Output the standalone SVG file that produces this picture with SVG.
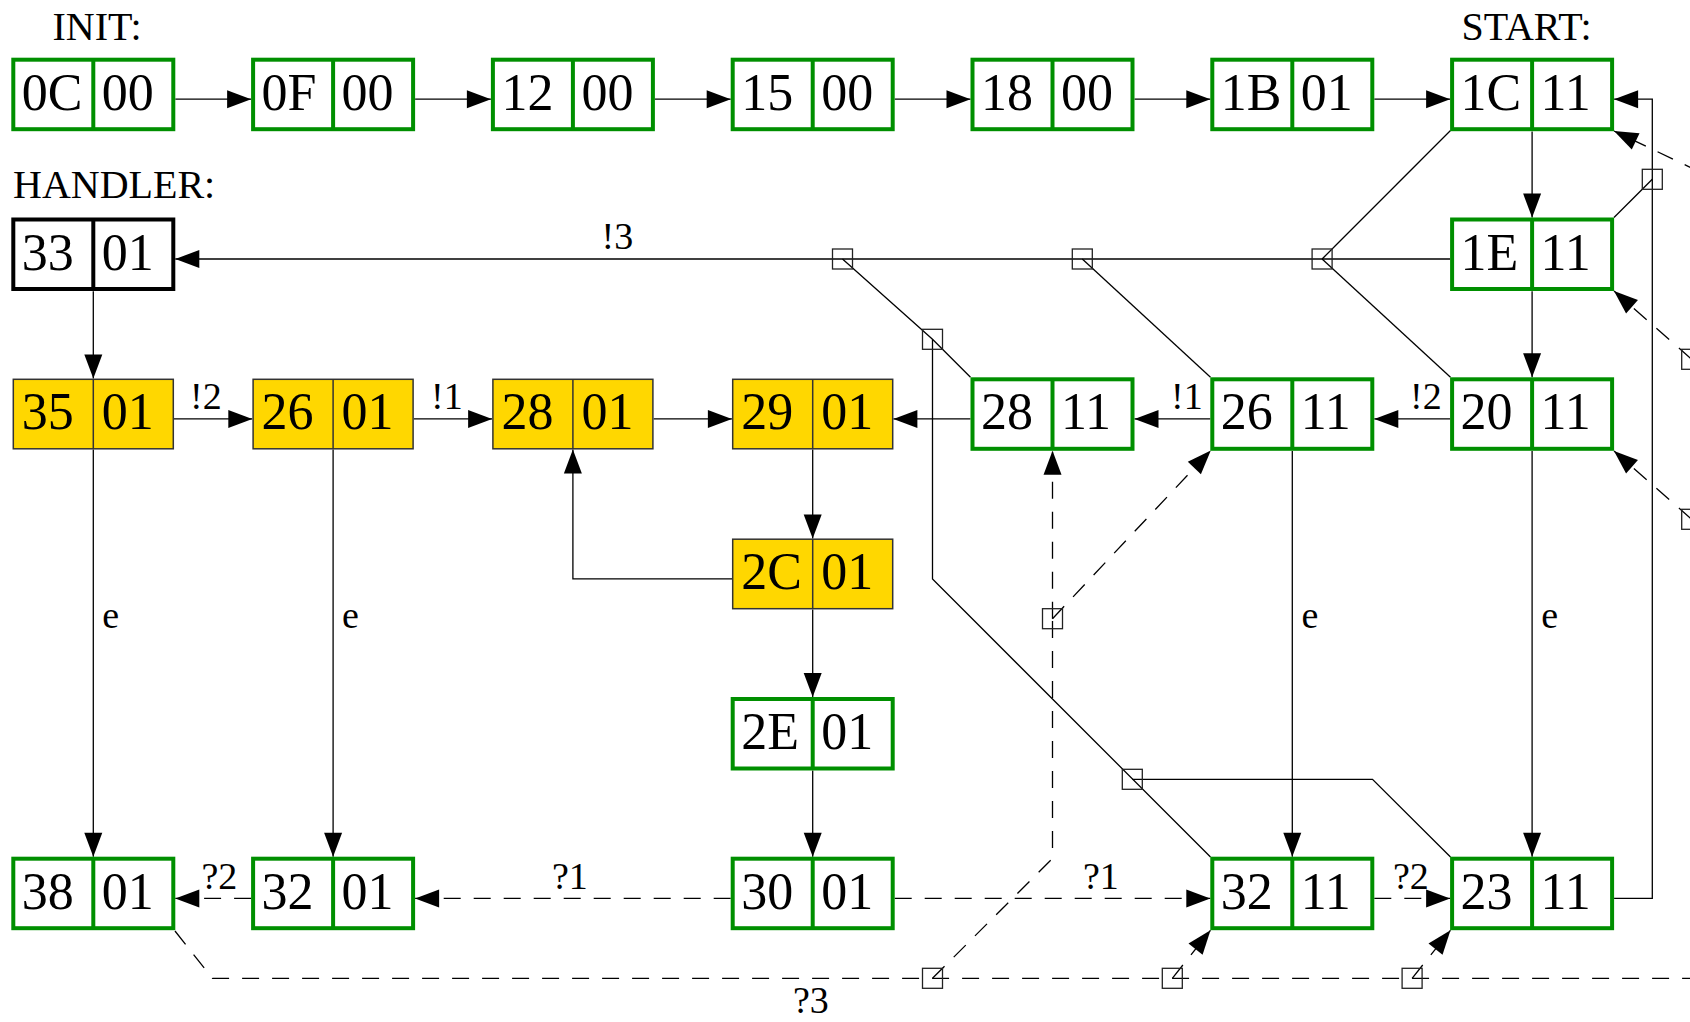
<svg xmlns="http://www.w3.org/2000/svg" width="1690" height="1022" viewBox="0 0 1690 1022">
<defs>
<marker id="ah" markerUnits="userSpaceOnUse" markerWidth="24" markerHeight="18" refX="24" refY="9" orient="auto" overflow="visible">
<path d="M0,0 L24,9 L0,18 z" fill="#000"/>
</marker>
</defs>
<style>
.g rect,.g line{fill:#fff;stroke:#008f00;stroke-width:4}
.y rect{fill:#ffd700;stroke:#333;stroke-width:1.5}
.y line{stroke:#333;stroke-width:1.5}
.k rect{fill:#fff;stroke:#000;stroke-width:4}
.k line{stroke:#000;stroke-width:4}
.t{font-family:"Liberation Serif","Times New Roman",serif;font-size:52px;fill:#000}
.h{font-family:"Liberation Serif","Times New Roman",serif;font-size:40px;fill:#000}
.l{font-family:"Liberation Serif","Times New Roman",serif;font-size:38px;fill:#000}
.c path{fill:none;stroke:#000;stroke-width:1.3}
.c .a{marker-end:url(#ah)}
.c .d{stroke-dasharray:17 13}
.j rect{fill:none;stroke:#222;stroke-width:1.3}
</style>
<rect width="1690" height="1022" fill="#fff"/>

<g id="labels">
<text class="h" x="52.5" y="40">INIT:</text>
<text class="h" x="13" y="198">HANDLER:</text>
<text class="h" x="1461.5" y="40">START:</text>
</g>

<g id="connectors" class="c">
<!-- row 0 -->
<path class="a" d="M175.3 99.2H251.1"/>
<path class="a" d="M415.1 99.2H490.9"/>
<path class="a" d="M654.9 99.2H730.7"/>
<path class="a" d="M894.7 99.2H970.5"/>
<path class="a" d="M1134.5 99.2H1210.3"/>
<path class="a" d="M1374.3 99.2H1450.1"/>
<path class="a" d="M1532.1 131.5V217.5"/>
<path class="a" d="M1532.1 291.2V377.3"/>
<path class="a" d="M1450.1 259H175.3"/>
<path class="a" d="M93.3 291.2V378.5"/>
<!-- row 2 -->
<path class="a" d="M174 418.9H252.3"/>
<path class="a" d="M413.8 418.9H492.1"/>
<path class="a" d="M653.6 418.9H731.9"/>
<path class="a" d="M970.5 418.9H893.4"/>
<path class="a" d="M1210.3 418.9H1134.5"/>
<path class="a" d="M1450.1 418.9H1374.3"/>
<path class="a" d="M812.7 449.6V538.4"/>
<path class="a" d="M812.7 609.5V697"/>
<path class="a" d="M732 578.9H572.9V449.6"/>
<path class="a" d="M812.7 770.5V856.7"/>
<path class="a" d="M93.3 449.6V856.7"/>
<path class="a" d="M333.1 449.6V856.7"/>
<path class="a" d="M1292.3 451V856.7"/>
<path class="a" d="M1532.1 451V856.7"/>
<path class="a" d="M1614.1 898.4H1652.3V99.2H1614.1"/>
<!-- exception lines -->
<path d="M842.5 259L932.5 339.3L970.5 377.3"/>
<path d="M1082.3 259L1210.5 377.3"/>
<path d="M1322.1 259L1450.5 377.3"/>
<path d="M1322.1 259L1450.5 130.5"/>
<path d="M932.5 339.3V579L1210.5 857"/>
<path d="M1132.3 779.3H1372.5L1450.5 857"/>
<path d="M1614 217.5L1652.3 179.3"/>
<!-- dashed -->
<path class="a d" d="M730.7 898.4H415.1"/>
<path class="a d" d="M251.1 898.4H175.3"/>
<path class="a d" d="M894.7 898.4H1210.3"/>
<path class="a d" d="M1374.3 898.4H1450.1"/>
<path class="d" d="M175 931L212.4 978.3H1700"/>
<path class="d" d="M932.5 978.3L1052.5 858.5V618.7"/>
<path class="a d" d="M1052.5 618.7V450.8"/>
<path class="a d" d="M1052.5 618.7L1210.8 450.5"/>
<path class="a d" d="M1172.3 978.3L1210.5 930.3"/>
<path class="a d" d="M1412.1 978.3L1450.5 930.3"/>
<path class="a d" d="M1700 172L1614 131"/>
<path class="a d" d="M1691.7 359.3L1614 291"/>
<path class="a d" d="M1691.7 519.3L1614 451"/>
</g>

<g id="junctions" class="j">
<rect x="832.5" y="249" width="20" height="20"/>
<rect x="1072.3" y="249" width="20" height="20"/>
<rect x="1312.1" y="249" width="20" height="20"/>
<rect x="922.5" y="329.3" width="20" height="20"/>
<rect x="1122.3" y="769.3" width="20" height="20"/>
<rect x="1642.3" y="169.3" width="20" height="20"/>
<rect x="922.5" y="968.3" width="20" height="20"/>
<rect x="1162.3" y="968.3" width="20" height="20"/>
<rect x="1402.1" y="968.3" width="20" height="20"/>
<rect x="1042.5" y="608.7" width="20" height="20"/>
<rect x="1681.7" y="349.3" width="20" height="20"/>
<rect x="1681.7" y="509.3" width="20" height="20"/>
</g>

<g id="edge-labels">
<text class="l" x="601.6" y="249.3">!3</text>
<text class="l" x="190" y="409.3">!2</text>
<text class="l" x="431" y="409.3">!1</text>
<text class="l" x="1171" y="408.5">!1</text>
<text class="l" x="1410" y="409.3">!2</text>
<text class="l" x="102.3" y="627.5">e</text>
<text class="l" x="342" y="627.5">e</text>
<text class="l" x="1301.5" y="627.5">e</text>
<text class="l" x="1541.3" y="627.5">e</text>
<text class="l" x="201.5" y="889.3">?2</text>
<text class="l" x="552" y="889.3">?1</text>
<text class="l" x="1083" y="889.3">?1</text>
<text class="l" x="1393" y="888.5">?2</text>
<text class="l" x="793" y="1013">?3</text>
</g>

<!-- row 0 -->
<g id="n0C" class="g"><rect x="13.3" y="59.7" width="160" height="69.5"/><line x1="93.3" y1="59.7" x2="93.3" y2="129.2"/><text class="t" x="21.8" y="109.7">0C</text><text class="t" x="101.8" y="109.7">00</text></g>
<g id="n0F" class="g"><rect x="253.1" y="59.7" width="160" height="69.5"/><line x1="333.1" y1="59.7" x2="333.1" y2="129.2"/><text class="t" x="261.6" y="109.7">0F</text><text class="t" x="341.6" y="109.7">00</text></g>
<g id="n12" class="g"><rect x="492.9" y="59.7" width="160" height="69.5"/><line x1="572.9" y1="59.7" x2="572.9" y2="129.2"/><text class="t" x="501.4" y="109.7">12</text><text class="t" x="581.4" y="109.7">00</text></g>
<g id="n15" class="g"><rect x="732.7" y="59.7" width="160" height="69.5"/><line x1="812.7" y1="59.7" x2="812.7" y2="129.2"/><text class="t" x="741.2" y="109.7">15</text><text class="t" x="821.2" y="109.7">00</text></g>
<g id="n18" class="g"><rect x="972.5" y="59.7" width="160" height="69.5"/><line x1="1052.5" y1="59.7" x2="1052.5" y2="129.2"/><text class="t" x="981" y="109.7">18</text><text class="t" x="1061" y="109.7">00</text></g>
<g id="n1B" class="g"><rect x="1212.3" y="59.7" width="160" height="69.5"/><line x1="1292.3" y1="59.7" x2="1292.3" y2="129.2"/><text class="t" x="1220.8" y="109.7">1B</text><text class="t" x="1300.8" y="109.7">01</text></g>
<g id="n1C" class="g"><rect x="1452.1" y="59.7" width="160" height="69.5"/><line x1="1532.1" y1="59.7" x2="1532.1" y2="129.2"/><text class="t" x="1460.6" y="109.7">1C</text><text class="t" x="1540.6" y="109.7">11</text></g>
<!-- row 1 -->
<g id="n33" class="k"><rect x="13.3" y="219.5" width="160" height="69.5"/><line x1="93.3" y1="219.5" x2="93.3" y2="289"/><text class="t" x="21.8" y="269.5">33</text><text class="t" x="101.8" y="269.5">01</text></g>
<g id="n1E" class="g"><rect x="1452.1" y="219.5" width="160" height="69.5"/><line x1="1532.1" y1="219.5" x2="1532.1" y2="289"/><text class="t" x="1460.6" y="269.5">1E</text><text class="t" x="1540.6" y="269.5">11</text></g>
<!-- row 2 -->
<g id="n35" class="y"><rect x="13.3" y="379.3" width="160" height="69.5"/><line x1="93.3" y1="379.3" x2="93.3" y2="448.8"/><text class="t" x="21.8" y="429.3">35</text><text class="t" x="101.8" y="429.3">01</text></g>
<g id="n26a" class="y"><rect x="253.1" y="379.3" width="160" height="69.5"/><line x1="333.1" y1="379.3" x2="333.1" y2="448.8"/><text class="t" x="261.6" y="429.3">26</text><text class="t" x="341.6" y="429.3">01</text></g>
<g id="n28a" class="y"><rect x="492.9" y="379.3" width="160" height="69.5"/><line x1="572.9" y1="379.3" x2="572.9" y2="448.8"/><text class="t" x="501.4" y="429.3">28</text><text class="t" x="581.4" y="429.3">01</text></g>
<g id="n29" class="y"><rect x="732.7" y="379.3" width="160" height="69.5"/><line x1="812.7" y1="379.3" x2="812.7" y2="448.8"/><text class="t" x="741.2" y="429.3">29</text><text class="t" x="821.2" y="429.3">01</text></g>
<g id="n28b" class="g"><rect x="972.5" y="379.3" width="160" height="69.5"/><line x1="1052.5" y1="379.3" x2="1052.5" y2="448.8"/><text class="t" x="981" y="429.3">28</text><text class="t" x="1061" y="429.3">11</text></g>
<g id="n26b" class="g"><rect x="1212.3" y="379.3" width="160" height="69.5"/><line x1="1292.3" y1="379.3" x2="1292.3" y2="448.8"/><text class="t" x="1220.8" y="429.3">26</text><text class="t" x="1300.8" y="429.3">11</text></g>
<g id="n20" class="g"><rect x="1452.1" y="379.3" width="160" height="69.5"/><line x1="1532.1" y1="379.3" x2="1532.1" y2="448.8"/><text class="t" x="1460.6" y="429.3">20</text><text class="t" x="1540.6" y="429.3">11</text></g>
<!-- row 3, 4 -->
<g id="n2C" class="y"><rect x="732.7" y="539.2" width="160" height="69.5"/><line x1="812.7" y1="539.2" x2="812.7" y2="608.7"/><text class="t" x="741.2" y="589.2">2C</text><text class="t" x="821.2" y="589.2">01</text></g>
<g id="n2E" class="g"><rect x="732.7" y="699" width="160" height="69.5"/><line x1="812.7" y1="699" x2="812.7" y2="768.5"/><text class="t" x="741.2" y="749">2E</text><text class="t" x="821.2" y="749">01</text></g>
<!-- row 5 -->
<g id="n38" class="g"><rect x="13.3" y="858.7" width="160" height="69.5"/><line x1="93.3" y1="858.7" x2="93.3" y2="928.2"/><text class="t" x="21.8" y="908.7">38</text><text class="t" x="101.8" y="908.7">01</text></g>
<g id="n32a" class="g"><rect x="253.1" y="858.7" width="160" height="69.5"/><line x1="333.1" y1="858.7" x2="333.1" y2="928.2"/><text class="t" x="261.6" y="908.7">32</text><text class="t" x="341.6" y="908.7">01</text></g>
<g id="n30" class="g"><rect x="732.7" y="858.7" width="160" height="69.5"/><line x1="812.7" y1="858.7" x2="812.7" y2="928.2"/><text class="t" x="741.2" y="908.7">30</text><text class="t" x="821.2" y="908.7">01</text></g>
<g id="n32b" class="g"><rect x="1212.3" y="858.7" width="160" height="69.5"/><line x1="1292.3" y1="858.7" x2="1292.3" y2="928.2"/><text class="t" x="1220.8" y="908.7">32</text><text class="t" x="1300.8" y="908.7">11</text></g>
<g id="n23" class="g"><rect x="1452.1" y="858.7" width="160" height="69.5"/><line x1="1532.1" y1="858.7" x2="1532.1" y2="928.2"/><text class="t" x="1460.6" y="908.7">23</text><text class="t" x="1540.6" y="908.7">11</text></g>
</svg>
